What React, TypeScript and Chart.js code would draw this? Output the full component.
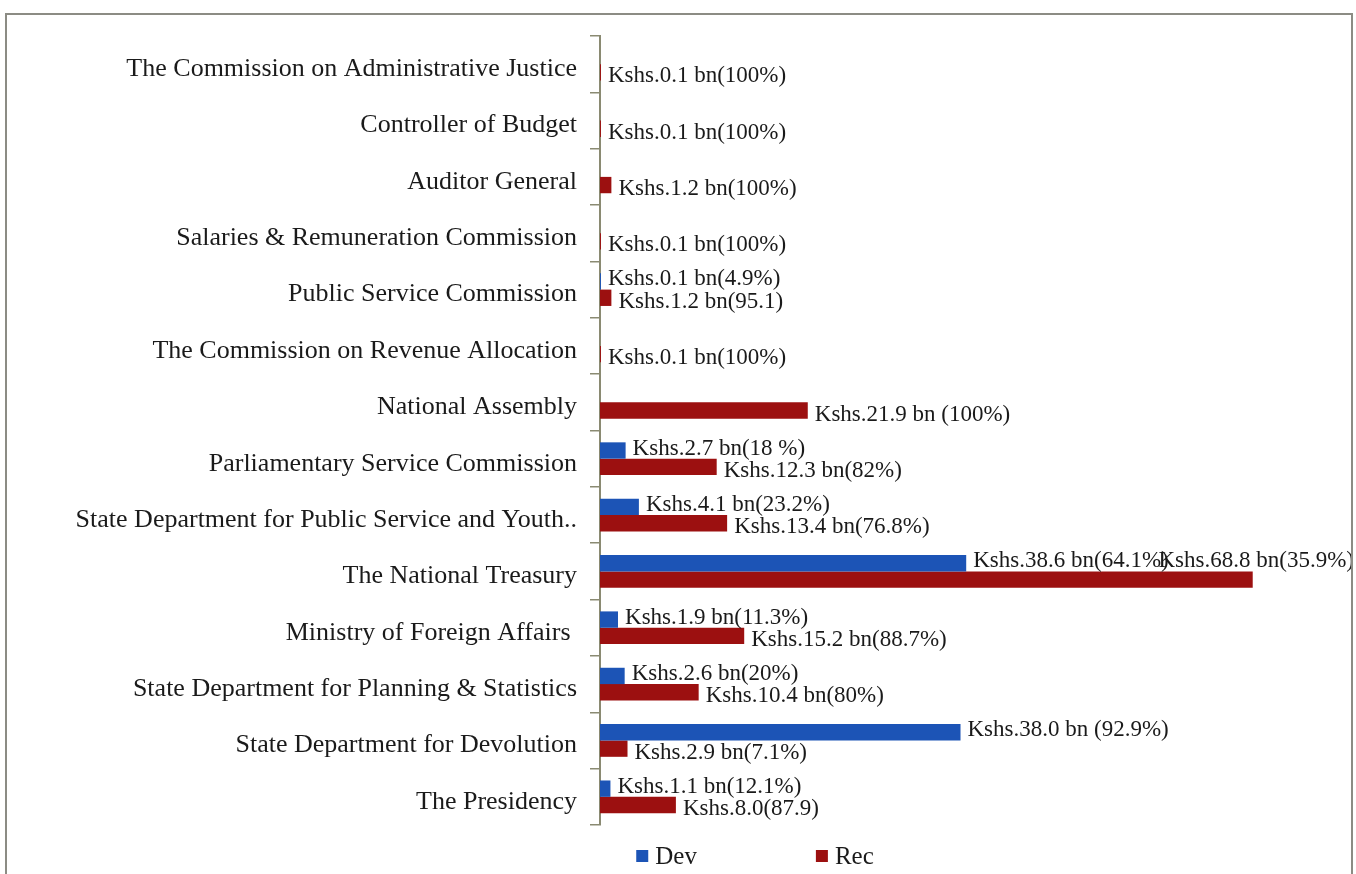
import React, { useEffect, useRef } from "react";
import { Chart, registerables } from "chart.js";

Chart.register(...registerables);

const categories = [
  "The Commission on Administrative Justice",
  "Controller of Budget",
  "Auditor General",
  "Salaries & Remuneration Commission",
  "Public Service Commission",
  "The Commission on Revenue Allocation",
  "National Assembly",
  "Parliamentary Service Commission",
  "State Department for Public Service and Youth..",
  "The National Treasury",
  "Ministry of Foreign Affairs ",
  "State Department for Planning & Statistics",
  "State Department for Devolution",
  "The Presidency",
];

const devValues = [null, null, null, null, 0.1, null, null, 2.7, 4.1, 38.6, 1.9, 2.6, 38.0, 1.1];
const recValues = [0.1, 0.1, 1.2, 0.1, 1.2, 0.1, 21.9, 12.3, 13.4, 68.8, 15.2, 10.4, 2.9, 8.0];

const devLabels = [
  "", "", "", "",
  "Kshs.0.1 bn(4.9%)",
  "", "",
  "Kshs.2.7 bn(18 %)",
  "Kshs.4.1 bn(23.2%)",
  "Kshs.38.6 bn(64.1%)",
  "Kshs.1.9 bn(11.3%)",
  "Kshs.2.6 bn(20%)",
  "Kshs.38.0 bn (92.9%)",
  "Kshs.1.1 bn(12.1%)",
];
const recLabels = [
  "Kshs.0.1 bn(100%)",
  "Kshs.0.1 bn(100%)",
  "Kshs.1.2 bn(100%)",
  "Kshs.0.1 bn(100%)",
  "Kshs.1.2 bn(95.1)",
  "Kshs.0.1 bn(100%)",
  "Kshs.21.9 bn (100%)",
  "Kshs.12.3 bn(82%)",
  "Kshs.13.4 bn(76.8%)",
  "Kshs.68.8 bn(35.9%)",
  "Kshs.15.2 bn(88.7%)",
  "Kshs.10.4 bn(80%)",
  "Kshs.2.9 bn(7.1%)",
  "Kshs.8.0(87.9)",
];

const seriesNames = ["Dev", "Rec"];
const DEV_COLOR = "#1c54b6";
const REC_COLOR = "#9c1010";
const TEXT_COLOR = "#1a1a1a";
const AXIS_COLOR = "#8a8a72";
const FONT = "'Liberation Serif', 'Times New Roman', serif";

const labelPlugin = {
  id: "barLabels",
  afterDatasetsDraw(chart: any) {
    const ctx = chart.ctx;
    const allLabels = [devLabels, recLabels];
    const yShift = [-2, 4];
    ctx.save();
    ctx.font = `23px ${FONT}`;
    ctx.fillStyle = TEXT_COLOR;
    ctx.textBaseline = "middle";
    ctx.textAlign = "left";
    chart.data.datasets.forEach((_ds: any, di: number) => {
      const meta = chart.getDatasetMeta(di);
      meta.data.forEach((el: any, i: number) => {
        const txt = allLabels[di][i];
        if (!txt) return;
        const w = ctx.measureText(txt).width;
        let x = el.x + 7;
        let y = el.y + yShift[di];
        if (x + w > chart.width - 2) {
          x = chart.width - 2 - w;
          y = el.y - el.height - 2;
        }
        ctx.fillText(txt, x, y);
      });
    });
    ctx.restore();
  },
};

const legendPlugin = {
  id: "customLegend",
  afterDraw(chart: any) {
    const ctx = chart.ctx;
    ctx.save();
    ctx.font = `25px ${FONT}`;
    ctx.textBaseline = "middle";
    ctx.textAlign = "left";
    const box = 12;
    const gapText = 7;
    const gapItems = 119;
    const colors = [DEV_COLOR, REC_COLOR];
    const widths = seriesNames.map((n) => box + gapText + ctx.measureText(n).width);
    const total = widths.reduce((a, b) => a + b, 0) + gapItems * (seriesNames.length - 1);
    let x = 755 - total / 2;
    const y = 856;
    seriesNames.forEach((n, i) => {
      ctx.fillStyle = colors[i];
      ctx.fillRect(x, y - box / 2, box, box);
      ctx.fillStyle = TEXT_COLOR;
      ctx.fillText(n, x + box + gapText, y + 1);
      x += widths[i] + gapItems;
    });
    ctx.restore();
  },
};

export default function App() {
  const ref = useRef<HTMLCanvasElement>(null);

  useEffect(() => {
    if (!ref.current) return;
    const chart = new Chart(ref.current, {
      type: "bar",
      data: {
        labels: categories,
        datasets: [
          {
            label: seriesNames[0],
            data: devValues as any,
            backgroundColor: DEV_COLOR,
            categoryPercentage: 0.58,
            barPercentage: 1.0,
          },
          {
            label: seriesNames[1],
            data: recValues,
            backgroundColor: REC_COLOR,
            categoryPercentage: 0.58,
            barPercentage: 1.0,
          },
        ],
      },
      options: {
        indexAxis: "y",
        responsive: false,
        animation: false,
        devicePixelRatio: 1,
        layout: { padding: { left: 0, top: 36, bottom: 49, right: 16 } },
        plugins: {
          legend: { display: false },
          tooltip: { enabled: false },
        },
        scales: {
          x: {
            display: false,
            min: 0,
            max: 78,
          },
          y: {
            afterFit(scale: any) {
              scale.width = 600;
            },
            grid: {
              display: true,
              drawOnChartArea: false,
              drawTicks: true,
              tickLength: 10,
              offset: true,
              color: AXIS_COLOR,
              lineWidth: 1.5,
            },
            border: { display: true, color: AXIS_COLOR, width: 2 },
            ticks: {
              color: TEXT_COLOR,
              padding: 13,
              labelOffset: 5,
              autoSkip: false,
              font: { family: FONT, size: 26 },
            },
          },
        },
      },
      plugins: [labelPlugin, legendPlugin],
    });
    return () => chart.destroy();
  }, []);

  return (
    <div>
      <canvas
        ref={ref}
        width={1356}
        height={874}
        style={{ position: "fixed", left: 0, top: 0, width: 1356, height: 874, background: "#fff" }}
      />
      <div
        style={{
          position: "fixed",
          left: 5,
          top: 13,
          width: 1348,
          height: 861,
          borderTop: "2px solid #8c8c84",
          borderLeft: "2px solid #8c8c84",
          borderRight: "2px solid #8c8c84",
          boxSizing: "border-box",
          pointerEvents: "none",
        }}
      />
    </div>
  );
}
